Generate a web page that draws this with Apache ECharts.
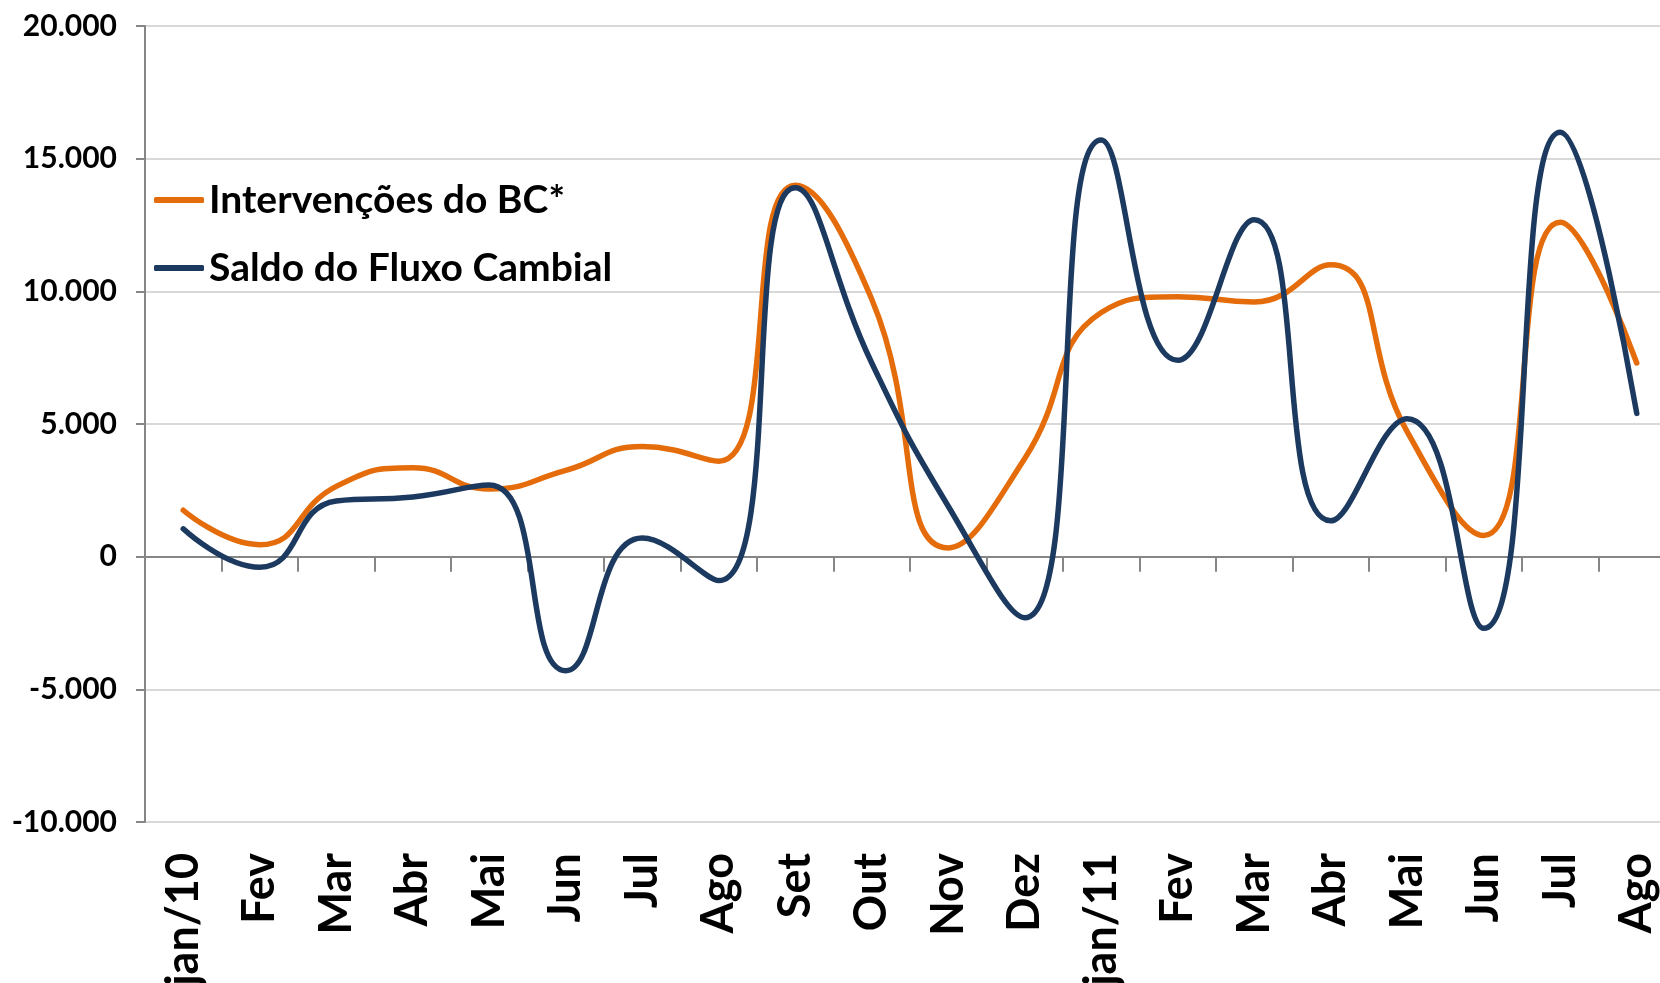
<!DOCTYPE html>
<html>
<head>
<meta charset="utf-8">
<script src="https://cdn.jsdelivr.net/npm/echarts@6/dist/echarts.min.js"></script>
<style>
    html, body { margin: 0; padding: 0; background: #fff; overflow: hidden; }
    #line_fluxo { width: 1660px; height: 983px; }
</style>
</head>
<body>
<div id="line_fluxo"></div>
<script>
// Chart data
var months = ['jan/10', 'Fev', 'Mar', 'Abr', 'Mai', 'Jun', 'Jul', 'Ago', 'Set', 'Out', 'Nov', 'Dez',
    'jan/11', 'Fev', 'Mar', 'Abr', 'Mai', 'Jun', 'Jul', 'Ago'];
var intervencoes = [1750, 450, 2650, 3350, 2550, 3250, 4150, 3600, 14000, 9700, 330, 3700,
    9200, 9800, 9600, 11000, 4700, 800, 12600, 7300];
var saldo = [1050, -400, 2100, 2250, 2700, -4300, 700, -900, 13900, 7300, 1900, -2300,
    15700, 7400, 12700, 1350, 5200, -2700, 16000, 5400];
var seriesNames = ['Intervenções do BC*', 'Saldo do Fluxo Cambial'];

// Define element
var line_fluxo_element = document.getElementById('line_fluxo');

if (line_fluxo_element) {

    // Initialize chart
    var line_fluxo = echarts.init(line_fluxo_element);

    // Thousands with dot separator
    var formatThousands = function (v) {
        var s = Math.abs(v).toString().replace(/\B(?=(\d{3})+(?!\d))/g, '.');
        return (v < 0 ? '-' : '') + s;
    };

    line_fluxo.setOption({

        color: ['#E46C0A', '#1C3A60'],

        textStyle: {
            fontFamily: 'Lato, "Open Sans", sans-serif',
            fontWeight: 'bold',
            color: '#000'
        },

        animation: false,

        // Plot runs a bit past the right edge, like the original
        grid: {
            left: 145,
            width: 1530,
            top: 26,
            bottom: 161,
            outerBoundsMode: 'none'
        },

        // Legend inside plot
        legend: {
            orient: 'vertical',
            left: 149,
            top: 173,
            itemWidth: 50,
            itemHeight: 6,
            itemGap: 24,
            icon: 'roundRect',
            textStyle: {
                fontSize: 39,
                fontWeight: 'bold',
                color: '#000',
                lineHeight: 44
            },
            data: seriesNames
        },

        // Horizontal axis: labels at the bottom, line and ticks at zero
        xAxis: [
            {
                type: 'category',
                boundaryGap: true,
                data: months,
                axisLine: { show: false, onZero: false },
                axisTick: { show: false },
                axisLabel: {
                    rotate: 90,
                    margin: 31,
                    interval: 0,
                    fontSize: 45,
                    fontWeight: 'bold',
                    color: '#000'
                }
            },
            {
                type: 'category',
                position: 'top',
                boundaryGap: true,
                data: months,
                axisLine: {
                    show: true,
                    onZero: true,
                    lineStyle: { color: '#868686', width: 2 }
                },
                axisTick: {
                    show: true,
                    inside: true,
                    length: 15,
                    interval: 0,
                    lineStyle: { color: '#868686', width: 2 }
                },
                axisLabel: { show: false }
            }
        ],

        // Vertical axis
        yAxis: {
            type: 'value',
            min: -10000,
            max: 20000,
            interval: 5000,
            axisLine: {
                show: true,
                lineStyle: { color: '#868686', width: 2 }
            },
            axisTick: {
                show: true,
                length: 9,
                lineStyle: { color: '#868686', width: 2 }
            },
            axisLabel: {
                margin: 28,
                fontSize: 30,
                fontWeight: 'bold',
                color: '#000',
                formatter: formatThousands
            },
            splitLine: {
                lineStyle: { color: '#d9d9d9', width: 2 }
            }
        },

        series: [
            {
                name: seriesNames[0],
                type: 'line',
                smooth: 0.5,
                symbol: 'none',
                lineStyle: { width: 5.5, cap: 'round' },
                data: intervencoes
            },
            {
                name: seriesNames[1],
                type: 'line',
                smooth: 0.5,
                symbol: 'none',
                lineStyle: { width: 5.5, cap: 'round' },
                data: saldo
            }
        ]
    });
}
</script>
</body>
</html>
